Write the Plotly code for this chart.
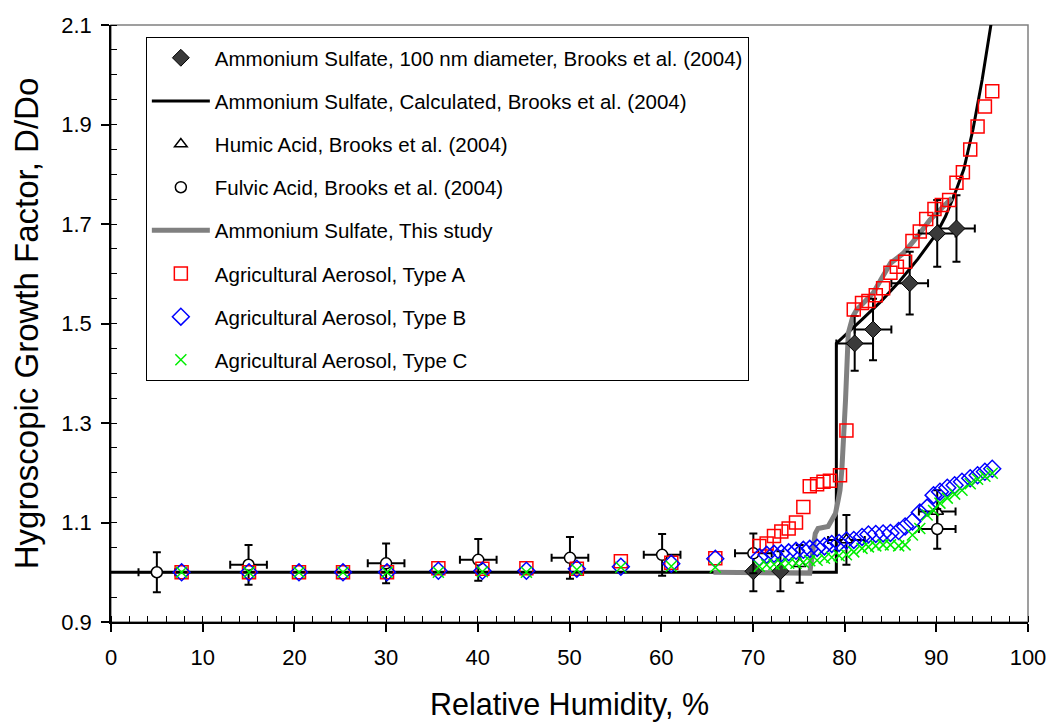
import plotly.graph_objects as go

# ---------------- data ----------------
calc_rh = [0, 79.1, 79.1, 80, 82, 84, 86, 88, 90, 91, 92, 93, 94, 95, 95.5, 96.0, 96.3]
calc_gf = [1.0, 1.0, 1.46, 1.475, 1.51, 1.545, 1.585, 1.63, 1.68, 1.715, 1.76, 1.81, 1.89, 1.99, 2.05, 2.10, 2.14]

study_rh = [65.7, 75.7, 76.2, 76.8, 77.1, 78.2, 79.0, 79.3, 79.5, 79.7, 79.9, 80.1, 80.4, 80.9,
            81.3, 83.1, 85.0, 86.4, 87.9, 89.3, 90.6, 91.7]
study_gf = [1.0, 1.0, 0.998, 1.078, 1.088, 1.092, 1.118, 1.145, 1.165, 1.206, 1.266, 1.346, 1.48, 1.514,
            1.527, 1.561, 1.621, 1.641, 1.674, 1.708, 1.732, 1.752]

as_rh = [70.05, 73.0, 81.1, 83.1, 87.1, 90.1, 92.2]
as_gf = [1.002, 1.002, 1.46, 1.488, 1.581, 1.681, 1.691]
as_yerr = [0.04, 0.04, 0.055, 0.062, 0.063, 0.067, 0.067]
as_xerr = [0, 0, 2, 2, 2, 2, 2]

hum_rh = [75.1, 80.2, 90.1]
hum_gf = [1.017, 1.065, 1.122]
hum_yerr = [0.038, 0.05, 0.043]
hum_xerr = [0, 2, 2]

ful_rh = [5.0, 15.0, 30.0, 40.05, 50.05, 60.1, 70.05, 90.1]
ful_gf = [1.0, 1.015, 1.018, 1.025, 1.029, 1.035, 1.038, 1.087]
ful_yerr = [0.04, 0.04, 0.04, 0.042, 0.042, 0.042, 0.04, 0.04]
ful_xerr = [2, 2, 2, 2, 2, 2, 2, 2]

a_rh = [7.7, 15.05, 20.5, 25.3, 30.1, 35.7, 40.5, 45.3, 50.8, 55.6, 61.1, 65.9,
        70.7, 71.5, 72.3, 73.1, 73.9, 74.7, 75.5, 76.2, 77.0, 77.7, 78.4, 79.5, 80.2,
        81.0, 81.9, 82.6, 83.4, 84.2, 85.0, 85.7, 86.6, 87.4, 88.2, 88.9, 89.8, 90.6,
        91.4, 92.2, 92.9, 93.7, 94.5, 95.3, 96.1]
a_gf = [1.0, 1.0, 1.0, 1.0, 1.0, 1.008, 1.007, 1.008, 1.007, 1.022, 1.019, 1.028,
        1.053, 1.058, 1.073, 1.082, 1.088, 1.100, 1.131, 1.173, 1.177, 1.182, 1.184, 1.195, 1.285,
        1.528, 1.541, 1.545, 1.557, 1.571, 1.602, 1.614, 1.624, 1.666, 1.685, 1.710, 1.730, 1.738,
        1.748, 1.783, 1.804, 1.850, 1.896, 1.936, 1.967]

bc_rh = [7.7, 15.05, 20.5, 25.3, 30.1, 35.7, 40.5, 45.3, 50.8, 55.6, 61.1, 65.9,
         70.7, 71.5, 72.3, 73.1, 73.9, 74.7, 75.5, 76.2, 77.0, 77.8, 78.6, 79.4, 80.2,
         81.0, 81.9, 82.6, 83.4, 84.2, 85.0, 85.9, 86.6, 87.4, 88.2, 89.0, 89.7, 90.4,
         91.2, 92.0, 92.8, 93.7, 94.5, 95.3, 96.1]
b_gf = [1.0, 1.0, 1.0, 1.0, 1.0, 1.003, 1.003, 1.003, 1.007, 1.011, 1.017, 1.027,
        1.030, 1.035, 1.037, 1.038, 1.040, 1.043, 1.045, 1.047, 1.049, 1.052, 1.057, 1.059, 1.064,
        1.065, 1.071, 1.076, 1.077, 1.078, 1.079, 1.083, 1.092, 1.102, 1.120, 1.130, 1.155, 1.162,
        1.170, 1.175, 1.182, 1.189, 1.195, 1.202, 1.208]
c_gf = [1.0, 1.0, 1.0, 1.0, 1.0, 1.0, 1.001, 1.0, 1.005, 1.010, 1.012, 1.010,
        1.012, 1.015, 1.016, 1.017, 1.018, 1.018, 1.020, 1.023, 1.024, 1.028, 1.030, 1.033, 1.035,
        1.041, 1.048, 1.051, 1.053, 1.055, 1.055, 1.053, 1.055, 1.075, 1.088, 1.115, 1.124, 1.139,
        1.149, 1.157, 1.165, 1.178, 1.187, 1.193, 1.199]

x_ticks = [0, 10, 20, 30, 40, 50, 60, 70, 80, 90, 100]
y_ticks = [0.9, 1.1, 1.3, 1.5, 1.7, 1.9, 2.1]

FONT = "Liberation Sans, Arial, sans-serif"

fig = go.Figure()

def eb(arr, width=4):
    return dict(type="data", array=arr, symmetric=True, color="black", thickness=2, width=width)

fig.add_trace(go.Scatter(x=calc_rh, y=calc_gf, mode="lines", name="Ammonium Sulfate, Calculated, Brooks et al. (2004)",
                         line=dict(color="black", width=3), legendrank=2, legendgroup="g2"))
fig.add_trace(go.Scatter(x=study_rh, y=study_gf, mode="lines", name="Ammonium Sulfate, This study",
                         line=dict(color="#808080", width=5), legendrank=5, legendgroup="g5"))
fig.add_trace(go.Scatter(x=as_rh, y=as_gf, mode="markers", name="Ammonium Sulfate, 100 nm diameter, Brooks et al. (2004)",
                         marker=dict(symbol="diamond", size=13, color="#3a3a3a", line=dict(color="black", width=1)),
                         error_y=eb(as_yerr), error_x=eb(as_xerr), legendrank=1, legendgroup="g1"))
fig.add_trace(go.Scatter(x=hum_rh, y=hum_gf, mode="markers", name="Humic Acid, Brooks et al. (2004)",
                         marker=dict(symbol="triangle-up", size=11, color="white", line=dict(color="black", width=1.5)),
                         error_y=eb(hum_yerr), error_x=eb(hum_xerr), legendrank=3, legendgroup="g3"))
fig.add_trace(go.Scatter(x=ful_rh, y=ful_gf, mode="markers", name="Fulvic Acid, Brooks et al. (2004)",
                         marker=dict(symbol="circle", size=11, color="white", line=dict(color="black", width=1.5)),
                         error_y=eb(ful_yerr), error_x=eb(ful_xerr), legendrank=4, legendgroup="g4"))
fig.add_trace(go.Scatter(x=a_rh, y=a_gf, mode="markers", name="Agricultural Aerosol, Type A",
                         marker=dict(symbol="square-open", size=13, color="#ff0000", line=dict(width=1.5)),
                         legendrank=6, legendgroup="g6"))
fig.add_trace(go.Scatter(x=bc_rh, y=b_gf, mode="markers", name="Agricultural Aerosol, Type B",
                         marker=dict(symbol="diamond-open", size=13, color="#0000ff", line=dict(width=1.5)),
                         legendrank=7, legendgroup="g7"))
fig.add_trace(go.Scatter(x=bc_rh, y=c_gf, mode="markers", name="Agricultural Aerosol, Type C",
                         marker=dict(symbol="x-thin-open", size=11, color="#00ee00", line=dict(width=1.5, color="#00ee00")),
                         legendrank=8, legendgroup="g8"))

# the page body has an 8 px margin, so the figure's own margins are reduced by 8 px
fig.update_layout(
    width=1056, height=723,
    margin=dict(l=103, r=36, t=17, b=109, autoexpand=False),
    paper_bgcolor="white", plot_bgcolor="white",
    font=dict(family=FONT, color="black"),
    showlegend=True,
    legend=dict(x=0.038, y=0.98, xanchor="left", yanchor="top",
                bgcolor="white", bordercolor="black", borderwidth=1,
                font=dict(size=20.5, family=FONT), tracegroupgap=13.5, itemwidth=58),
    shapes=[dict(type="rect", xref="paper", yref="paper", x0=0, y0=0, x1=1, y1=1,
                 line=dict(color="#808080", width=1.5), layer="below")],
)
fig.update_xaxes(range=[0, 100], tickmode="array", tickvals=x_ticks, ticktext=[str(v) for v in x_ticks],
                 automargin=False,
                 showgrid=False, zeroline=False, showline=True, linecolor="black", linewidth=1.5,
                 ticks="outside", ticklen=8, tickwidth=1.5, tickcolor="black", ticklabelstandoff=7,
                 minor=dict(dtick=2, ticks="inside", ticklen=6, tickwidth=1, tickcolor="black"),
                 tickfont=dict(size=22, family=FONT),
                 title=dict(text="Relative Humidity, %", font=dict(size=30.5, family=FONT), standoff=24))
fig.update_yaxes(range=[0.9, 2.1], tickmode="array", tickvals=y_ticks, ticktext=[f"{v:.1f}" for v in y_ticks],
                 automargin=False,
                 showgrid=False, zeroline=False, showline=True, linecolor="black", linewidth=1.5,
                 ticks="outside", ticklen=8, tickwidth=1.5, tickcolor="black", ticklabelstandoff=5,
                 minor=dict(tick0=0.9, dtick=0.05, ticks="inside", ticklen=6, tickwidth=1, tickcolor="black"),
                 tickfont=dict(size=22, family=FONT),
                 title=dict(text="Hygroscopic Growth Factor, D/Do", font=dict(size=33, family=FONT), standoff=16))

fig.write_html("out.html")
